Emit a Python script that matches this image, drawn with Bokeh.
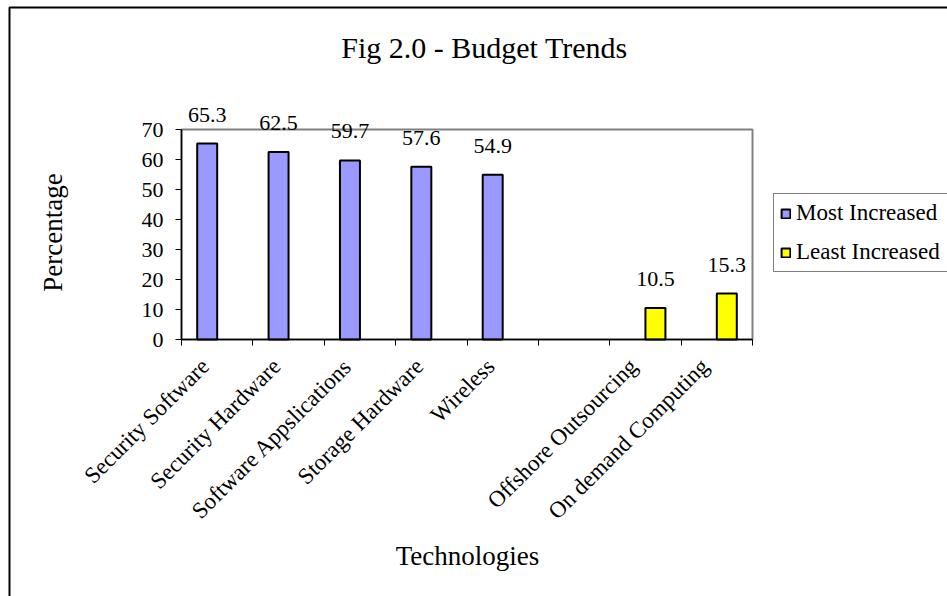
import math
from bokeh.plotting import figure
from bokeh.models import (ColumnDataSource, FixedTicker, Label, LabelSet, Legend,
                          LegendItem, BoxAnnotation, Range1d, LinearAxis)
from bokeh.embed import file_html
from bokeh.resources import INLINE

# ---- data ----
categories = ["Security Software", "Security Hardware", "Software Appslications",
              "Storage Hardware", "Wireless", "", "Offshore Outsourcing",
              "On demand Computing"]
most_increased = [65.3, 62.5, 59.7, 57.6, 54.9, None, None, None]
least_increased = [None, None, None, None, None, None, 10.5, 15.3]
y_ticks = [0, 10, 20, 30, 40, 50, 60, 70]
series_names = ["Most Increased", "Least Increased"]
series_colors = ["#9999FF", "#FFFF00"]

FONT = "Liberation Serif"
W, H = 947, 596
n = len(categories)
y_max = max(y_ticks)
centers = [i + 0.5 for i in range(n)]
boundaries = list(range(n + 1))

# The frame covers the whole canvas; the plot area (x 0..n, y 0..70) sits inside it.
PA_LEFT, PA_RIGHT, PA_TOP, PA_BOTTOM = 181, 752, 129, 339
sx = (PA_RIGHT - PA_LEFT) / n          # px per category
sy = (PA_BOTTOM - PA_TOP) / y_max      # px per percent
x_range = Range1d(-PA_LEFT / sx, (W - PA_LEFT) / sx)
y_range = Range1d(-(H - PA_BOTTOM) / sy, PA_BOTTOM / sy)

p = figure(width=W, height=H, x_range=x_range, y_range=y_range,
           output_backend="svg", toolbar_location=None, title=None,
           x_axis_type=None, y_axis_type=None, min_border=0)
p.background_fill_color = "white"
p.border_fill_color = "white"
p.outline_line_color = None
p.grid.visible = False

# plot area border (gray, Excel style)
p.add_layout(BoxAnnotation(left=0, right=n, bottom=0, top=y_max,
                           fill_color=None, fill_alpha=0,
                           line_color="#808080", line_alpha=1, line_width=2,
                           level="underlay"))


def series_source(vals, shift):
    xs, ys, labels = [], [], []
    for c, v in zip(centers, vals):
        if v is not None:
            xs.append(c + shift)
            ys.append(v)
            labels.append(f"{v:.1f}")
    return ColumnDataSource(dict(x=xs, top=ys, label=labels))


renderers = []
for vals, shift, col in [(most_increased, -0.14, series_colors[0]),
                         (least_increased, 0.14, series_colors[1])]:
    src = series_source(vals, shift)
    r = p.vbar(x="x", top="top", bottom=0, width=0.28, source=src,
               fill_color=col, line_color="black", line_width=2)
    renderers.append(r)
    p.add_layout(LabelSet(x="x", y="top", text="label", source=src,
                          text_align="center", text_baseline="bottom",
                          y_offset=22, text_font=FONT, text_font_size="22px",
                          text_color="black"))

# ---- axes ----
xa = LinearAxis(fixed_location=0, bounds=(0, n),
                ticker=FixedTicker(ticks=boundaries))
xa.major_label_overrides = {b: "" for b in boundaries}
xa.major_tick_line_color = "black"
xa.major_tick_out = 6
xa.major_tick_in = 0
xa.minor_tick_line_color = None
xa.axis_line_color = "black"
xa.axis_line_width = 1.5
p.add_layout(xa, "below")

# category labels, rotated 45 degrees, ending just left of each category centre
cat_src = ColumnDataSource(dict(
    x=[c for c, lab in zip(centers, categories) if lab],
    y=[0 for lab in categories if lab],
    text=[lab for lab in categories if lab]))
p.add_layout(LabelSet(x="x", y="y", text="text", source=cat_src,
                      angle=math.pi / 4, text_align="right", text_baseline="middle",
                      x_offset=-12, y_offset=-23,
                      text_font=FONT, text_font_size="23px", text_color="black"))

ya = LinearAxis(fixed_location=0, bounds=(0, y_max),
                ticker=FixedTicker(ticks=y_ticks))
ya.major_tick_out = 6
ya.major_tick_in = 0
ya.major_tick_line_color = "black"
ya.minor_tick_line_color = None
ya.axis_line_color = "black"
ya.axis_line_width = 1.5
ya.major_label_standoff = 12
ya.major_label_text_font = FONT
ya.major_label_text_font_size = "22px"
ya.major_label_text_color = "black"
p.add_layout(ya, "left")

# ---- titles ----
p.add_layout(Label(x=(484 - PA_LEFT) / sx, y=(PA_BOTTOM - 47) / sy,
                   text="Fig 2.0 - Budget Trends",
                   text_align="center", text_baseline="middle",
                   text_font=FONT, text_font_size="30px", text_color="black"))
p.add_layout(Label(x=(52 - PA_LEFT) / sx, y=(PA_BOTTOM - 232) / sy,
                   text="Percentage", angle=math.pi / 2,
                   text_align="center", text_baseline="middle",
                   text_font=FONT, text_font_size="27px", text_color="black"))
p.add_layout(Label(x=(467 - PA_LEFT) / sx, y=(PA_BOTTOM - 555) / sy,
                   text="Technologies",
                   text_align="center", text_baseline="middle",
                   text_font=FONT, text_font_size="27px", text_color="black"))

# ---- legend ----
legend = Legend(items=[LegendItem(label=nm, renderers=[r])
                       for nm, r in zip(series_names, renderers)],
                location=(773, H - 272), margin=0, padding=6, spacing=13,
                glyph_width=11, glyph_height=11, label_standoff=5,
                label_width=155, label_height=20,
                label_text_font=FONT, label_text_font_size="23px",
                label_text_color="black",
                border_line_color="black", border_line_width=1,
                background_fill_color="white", background_fill_alpha=1)
p.add_layout(legend)

# ---- outer chart border (right and bottom edges lie beyond the picture) ----
p.add_layout(BoxAnnotation(left=(9 - PA_LEFT) / sx, right=(W + 60 - PA_LEFT) / sx,
                           top=(PA_BOTTOM - 7) / sy, bottom=-(H + 60 - PA_BOTTOM) / sy,
                           fill_color=None, fill_alpha=0,
                           line_color="black", line_alpha=1, line_width=2,
                           level="annotation"))

open("out.html", "w").write(file_html(p, INLINE))
